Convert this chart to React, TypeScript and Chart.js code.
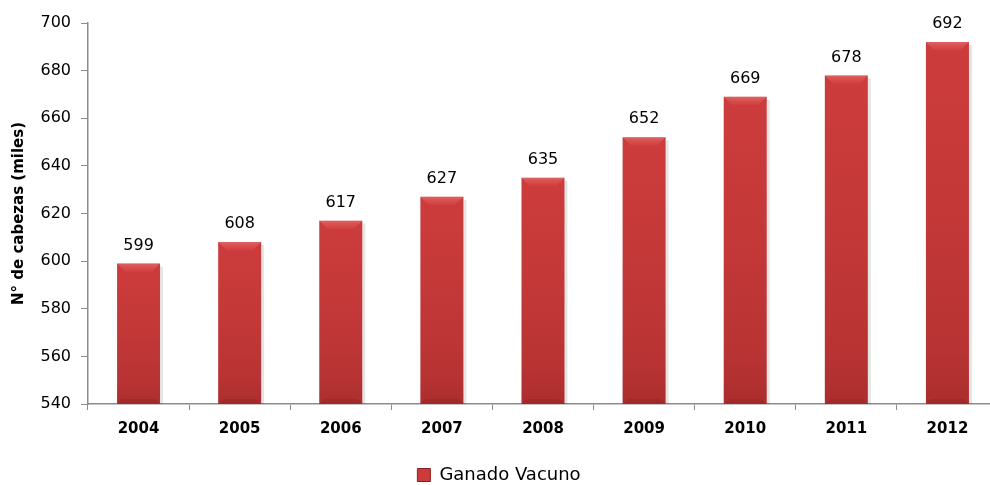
import React, { useEffect, useRef } from "react";
import { Chart, registerables } from "chart.js";

Chart.register(...registerables);

const years = ["2004", "2005", "2006", "2007", "2008", "2009", "2010", "2011", "2012"];
const cattle = [599, 608, 617, 627, 635, 652, 669, 678, 692];
const yTicks = [540, 560, 580, 600, 620, 640, 660, 680, 700];
const seriesName = "Ganado Vacuno";
const yTitle = "N° de cabezas (miles)";

const FONT = "'DejaVu Sans', sans-serif";

const barFill = (ctx: any) => {
  const el = ctx.element;
  const c = ctx.chart.ctx;
  if (!el || el.width === undefined || !isFinite(el.x)) return "#c83a3a";
  const l = el.x - el.width / 2;
  const r = el.x + el.width / 2;
  const g = c.createLinearGradient(l, 0, r, 0);
  g.addColorStop(0, "#9a2626");
  g.addColorStop(0.1, "#c73838");
  g.addColorStop(0.45, "#d84444");
  g.addColorStop(0.85, "#c93a3a");
  g.addColorStop(1, "#8e2222");
  return g;
};

const legendShift = {
  id: "legendShift",
  afterLayout(chart: any) {
    if (chart.legend) {
      chart.legend.top += 9;
      chart.legend.bottom += 9;
    }
  },
};

const barDecor = {
  id: "barDecor",
  afterDatasetsDraw(chart: any) {
    const c = chart.ctx;
    const area = chart.chartArea;
    const meta = chart.getDatasetMeta(0);
    c.save();
    meta.data.forEach((bar: any, i: number) => {
      const l = bar.x - bar.width / 2;
      const r = bar.x + bar.width / 2;
      const t = bar.y;
      const b = Math.min(bar.base, area.bottom);
      const bev = 8;
      const vg = c.createLinearGradient(0, t, 0, b);
      vg.addColorStop(0, "rgba(255,80,80,0.08)");
      vg.addColorStop(0.85, "rgba(70,0,0,0.12)");
      vg.addColorStop(1, "rgba(70,0,0,0.22)");
      c.fillStyle = vg;
      c.fillRect(l, t, r - l, b - t);
      const tg = c.createLinearGradient(0, t, 0, t + bev);
      tg.addColorStop(0, "rgba(255,170,170,0.35)");
      tg.addColorStop(1, "rgba(255,110,110,0.12)");
      c.fillStyle = tg;
      c.beginPath();
      c.moveTo(l, t);
      c.lineTo(r, t);
      c.lineTo(r - bev, t + bev);
      c.lineTo(l + bev, t + bev);
      c.closePath();
      c.fill();
      c.fillStyle = "rgba(70,0,0,0.10)";
      c.beginPath();
      c.moveTo(l, b);
      c.lineTo(r, b);
      c.lineTo(r - 5, b - 5);
      c.lineTo(l + 5, b - 5);
      c.closePath();
      c.fill();
      c.fillStyle = "rgba(0,0,0,0.10)";
      c.fillRect(r, t + 3, 3, b - t - 3);
      c.fillStyle = "#000";
      c.font = `16px ${FONT}`;
      c.textAlign = "center";
      c.textBaseline = "bottom";
      c.fillText(String(cattle[i]), bar.x, t - 10);
    });
    c.restore();
  },
};

export default function App() {
  const ref = useRef<HTMLCanvasElement>(null);
  useEffect(() => {
    if (!ref.current) return;
    const chart = new Chart(ref.current, {
      type: "bar",
      data: {
        labels: years,
        datasets: [
          {
            label: seriesName,
            data: cattle,
            backgroundColor: barFill as any,
            borderWidth: 0,
            barPercentage: 0.425,
            categoryPercentage: 1,
          },
        ],
      },
      plugins: [barDecor, legendShift],
      options: {
        animation: false,
        responsive: false,
        maintainAspectRatio: false,
        layout: { padding: { top: 23, right: 0, left: 0, bottom: 0 } },
        plugins: {
          tooltip: { enabled: false },
          legend: {
            position: "bottom",
            align: "center",
            labels: {
              color: "#000",
              font: { family: FONT, size: 18 },
              boxWidth: 13,
              boxHeight: 13,
              padding: 0,
              generateLabels: () => [
                {
                  text: seriesName,
                  fillStyle: "#cc3a3a",
                  strokeStyle: "#8a2020",
                  lineWidth: 1,
                  hidden: false,
                  datasetIndex: 0,
                } as any,
              ],
            },
          },
        },
        scales: {
          x: {
            offset: true,
            grid: {
              display: true,
              offset: true,
              drawOnChartArea: false,
              drawTicks: true,
              tickLength: 6,
              color: "#8c8c8c",
            },
            border: { color: "#8c8c8c", width: 1.5 },
            ticks: {
              color: "#000",
              font: { family: FONT, size: 15, weight: "bold" },
              padding: 10,
            },
            afterFit: (s: any) => {
              s.height = 53;
            },
          },
          y: {
            min: 540,
            max: 700,
            afterBuildTicks: (s: any) => {
              s.ticks = yTicks.map((v) => ({ value: v }));
            },
            grid: {
              display: true,
              drawOnChartArea: false,
              drawTicks: true,
              tickLength: 7,
              color: "#8c8c8c",
            },
            border: { color: "#8c8c8c", width: 1.5 },
            ticks: {
              color: "#000",
              font: { family: FONT, size: 16 },
              padding: 10,
            },
            title: {
              display: true,
              text: yTitle,
              color: "#000",
              font: { family: FONT, size: 15, weight: "bold" },
              padding: { top: 10, bottom: 0 },
            },
            afterFit: (s: any) => {
              s.width = 88;
            },
          },
        },
      },
    });
    return () => chart.destroy();
  }, []);
  return (
    <div style={{ position: "fixed", left: 0, top: 0, width: 990, height: 485, overflow: "hidden", background: "#fff" }}>
      <canvas ref={ref} width={998} height={485} style={{ width: 998, height: 485, display: "block" }} />
    </div>
  );
}
